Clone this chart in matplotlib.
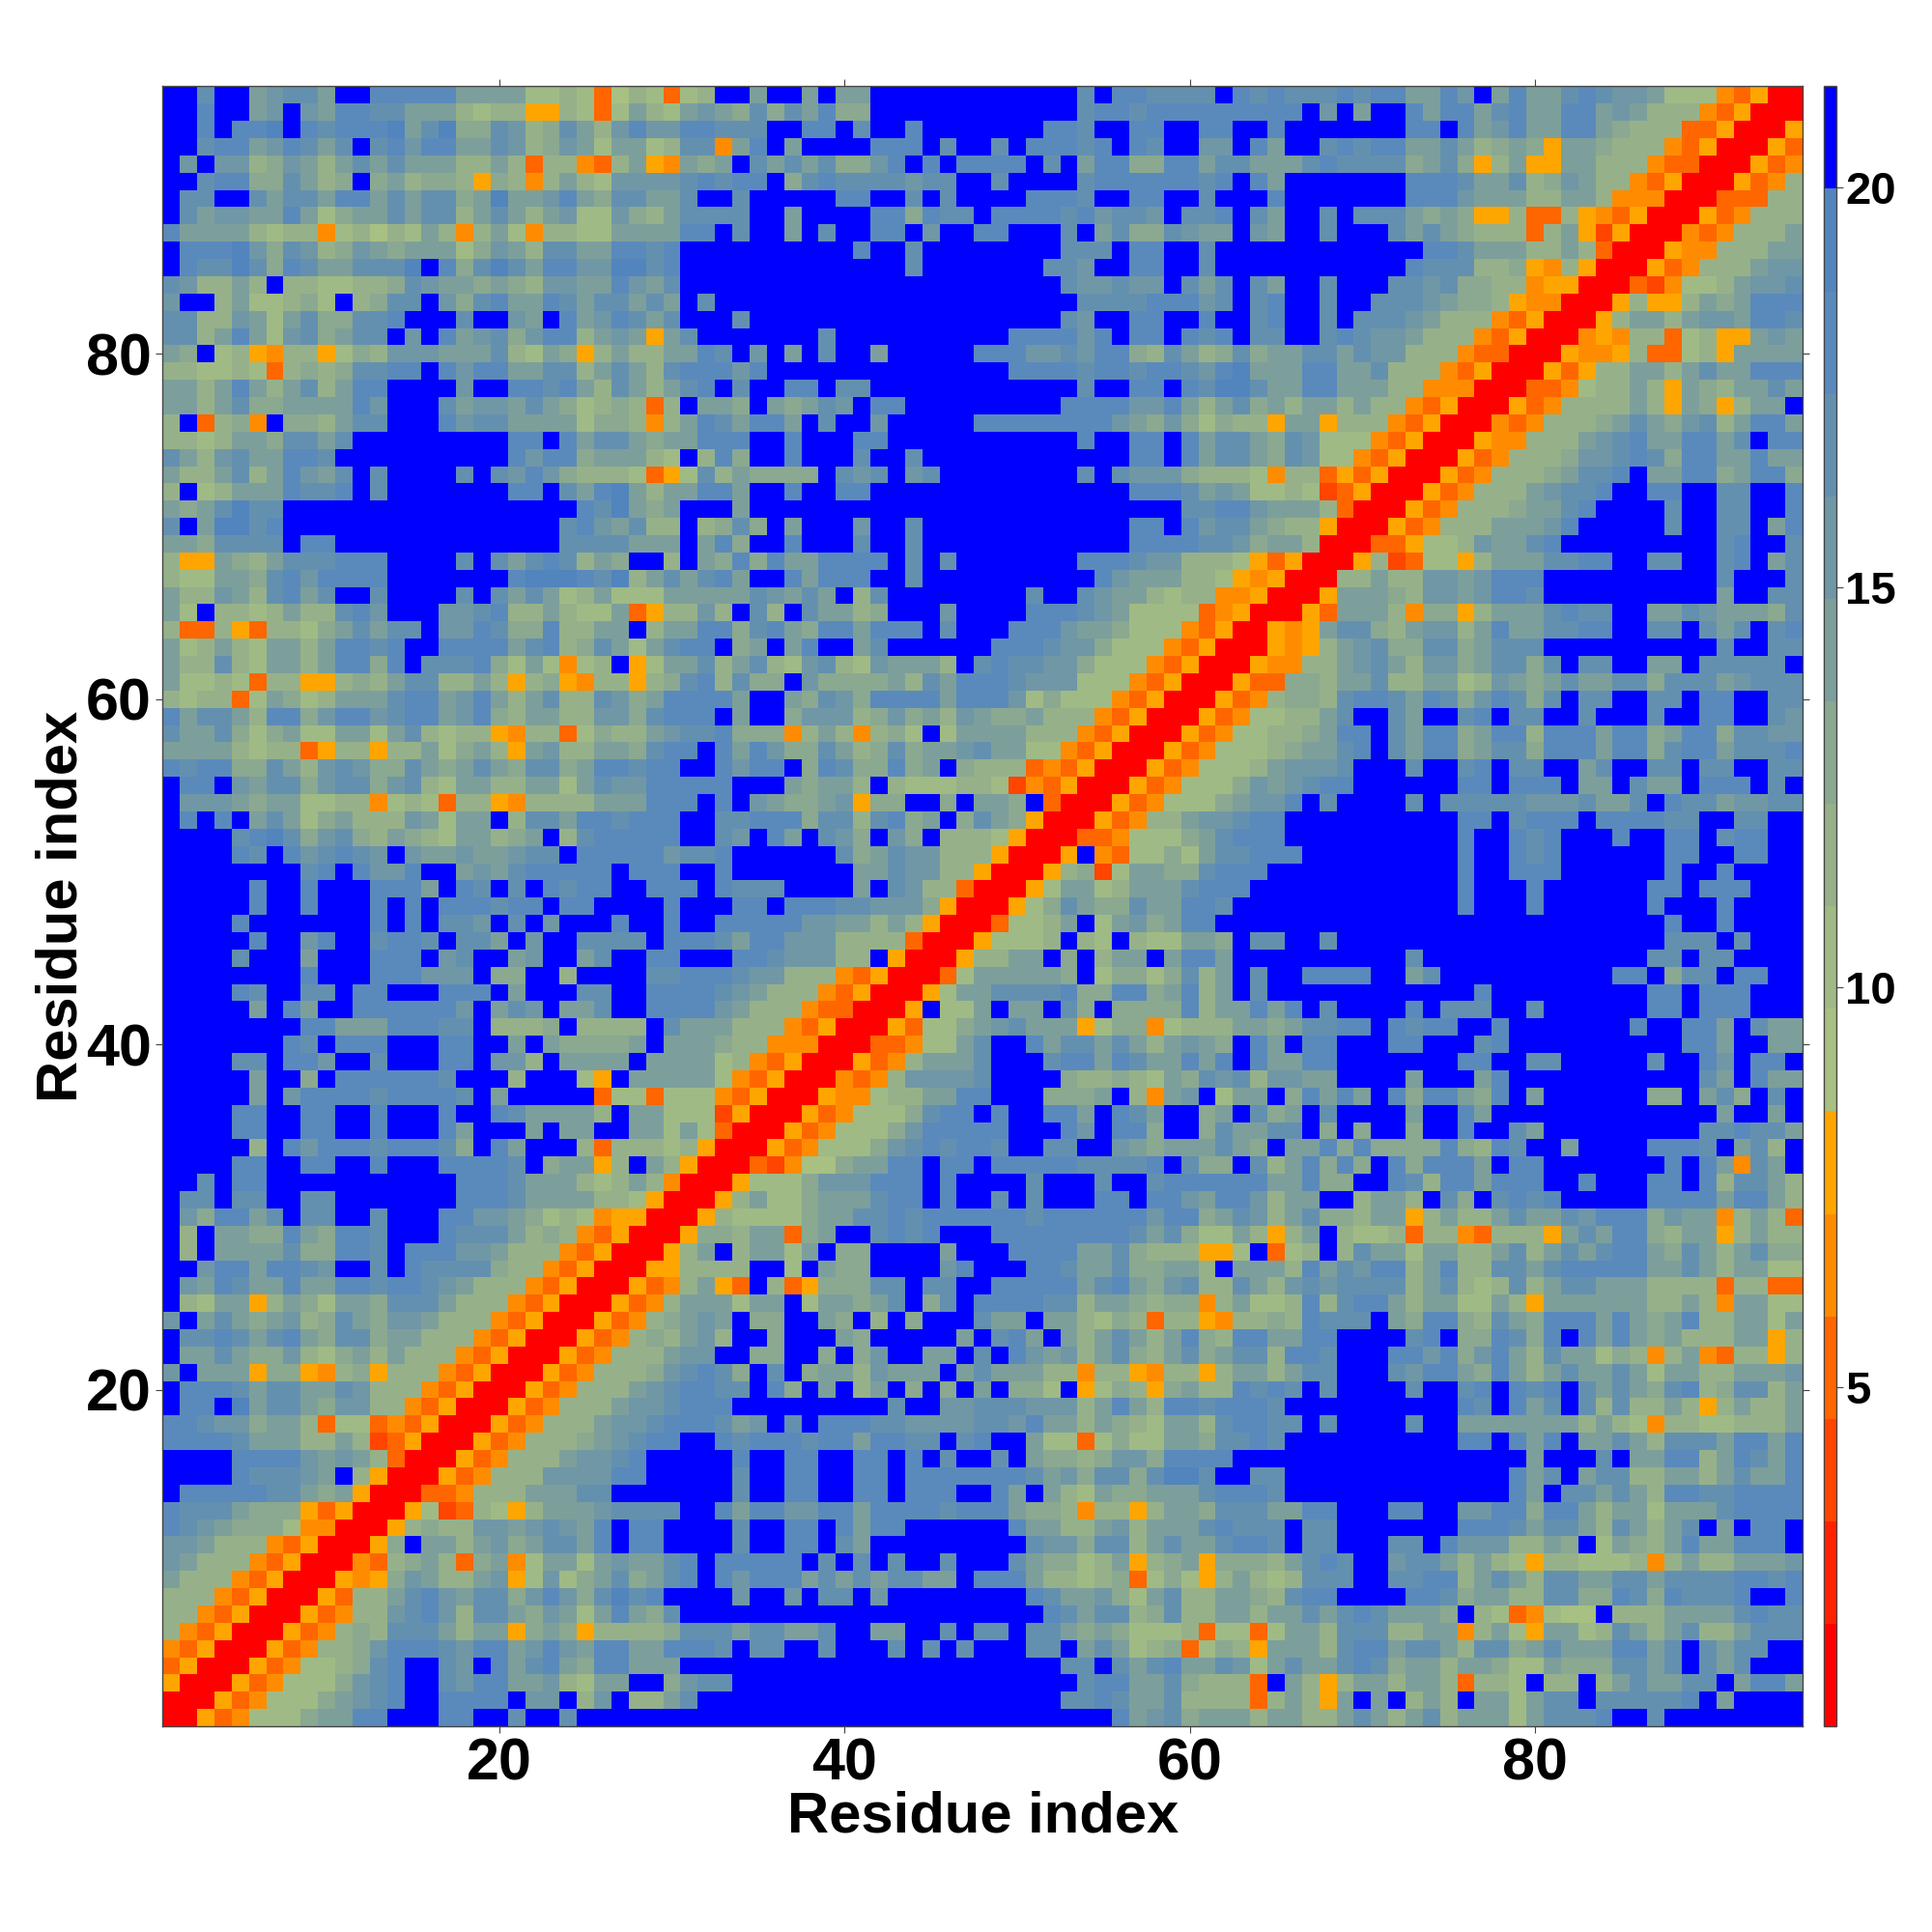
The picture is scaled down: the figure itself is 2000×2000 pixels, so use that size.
import matplotlib
matplotlib.use('Agg')
import matplotlib.pyplot as plt
from matplotlib.colors import ListedColormap, BoundaryNorm
import numpy as np

plt.rcParams['font.family'] = ['Liberation Sans', 'DejaVu Sans']
plt.rcParams['font.weight'] = 'bold'

# distance map, one letter per cell (hex colour band, 0 = closest, f = farthest)
# rows run from residue 95 at the top down to residue 1
cols_01_32 = [
"ffcff abcca ffddd ddaaa a7787 36873 78",
"ffdff abfba ddcca aa878 85587 37a87 ab",
"ffdfd defdc dddea ce99c b89ca 8bdbb dd",
"ffcdd abdca cfcdb ddaac b89ba 7aa78 cc",
"fbfbb 89ba8 acaca aa88a 83884 38a54 a9",
"ffcdd 99ca8 9f9a8 99859 848a8 7bbbb cd",
"fccff cacca ddaca cc9ae aabda 9ccaa cf",
"fcabb aada7 9aaca cc8ac a8ab7 7b98a cc",
"daaaa 87884 78687 a848a 74887 7aaaa dd",
"fddde b9cb8 9ba9a aa79b a8cca addcd ff",
"fdcce c9dca accce fd9ce caddb beecd ff",
"cb88a 8f887 7889c baa9a 98bba adbac ff",
"bff8a 77897 f89cc fb9cd aadca ccaca fc",
"cc88b a7ac9 9ccdf ffcff bafda bdcac ff",
"cc8ad a7bc9 accfb fdabc 9bdd8 aba5a cf",
"a9f78 54885 798bb baaac 87a95 8a88a ad",
"88778 73898 9ccdd fdbdd aacc8 aca8c dd",
"aa8ad a8ac8 addff ffbff ddcda 8ca8a cd",
"aa8ac 99aaa adbff fcabb aca97 89838 fa",
"8f389 4f998 accff fdbcc aaaa7 99848 ad",
"8878a a9cca cffff fffff ddfda cca9a ad",
"ca8bc aaddc fffff fffff dbdd9 aaa87 f8",
"a88ac 8adba cfcff ffcfc bdb98 88735 7c",
"8f78a aadcc dfcff fffff ddfca dea8a ad",
"a9ace ccfff fffff fffff ffffd cea9a ff",
"cfaee cdfff fffff fffff fffcd bac88 f8",
"aa9cc ccfdd fffff fffff fffcc ccaaa fa",
"855a9 8accc dddff ffcfc acdc8 a9ff8 fa",
"877aa 9cdbd dddff fffff deeed ce8ac ac",
"a88ba 8cdac ffcff ffcfc aca78 a777a aa",
"a7f88 78a88 cdbff fbbcd 88a87 7a358 8b",
"83385 38879 acacc fbbdc 99d88 aaf8a ad",
"a78a8 7aa8a ddcdf fdddd acd89 ca7ac dd",
"a88c8 7aa8a dd9df cccd9 7a747 8f57a ac",
"a7787 38855 898ac c88a8 58954 88589 cd",
"87883 7a978 aaacd dabda 8ac88 cb9ad dd",
"dacca 8dd9b ddbcd dabd9 8aa88 bb9cd dd",
"caac9 79a77 aa7ac 87885 48837 988ab cc",
"aaaa8 78835 88588 a79a8 5ab88 aa9cd df",
"dcdd9 9ca8b cb99c a9aca 9cc9a ddcdd ff",
"fddfb acc9b cc9bc 87aa8 8aa7a cbbdd dd",
"fbbba 9aa77 88478 73885 48888 aaadd df",
"fdfdf aca79 a888b a7aaf 8ccad dcddd ff",
"ffffc dec9b c98a9 87aa8 9af8c ddddd ff",
"ffffd cfdbc dcbfb aabaa bccfd ddddb cc",
"fffff fffcd fdbbd ffaba cdddd dfddd ff",
"fffff dffdf ffddd afdcf cfdcd dffdd df",
"fffff dffdf ffdfd fdddc ddfdd ffffd ff",
"ffffd fffff ffdfd fccbf cfbff fdffd ff",
"fffff dffbd ffcdd cfcca fbffc cccfd dd",
"ffffc fffaf ffddd fbcff abffa cffdd ff",
"fffff fffdf ffddd bbbf9 9ff8f fffcc dd",
"ffffd cffcc fddff fdddf afffc cffdd dd",
"fffff afdaf fdddd ddbfa cbfaa cffdd dd",
"fffff fffdd aaadd dccf8 889f8 888fc aa",
"fffff ffdcf dddff fddff afa99 99afa aa",
"ffffc cfddb ffcff fddfb b8faa aafaa aa",
"fffff aff9f ddddd dcfff 8fff7 5faaa aa",
"fffff afbdd ddcdd ddcfa fffff 37737 77",
"ffffd dffdd ffdff fdffd caaaa 8faa7 77",
"ffffd dffdd ffdff fdaff fafaa ffaa7 a7",
"fffff 8fdbd ddcdd dc9fd afff8 38887 85",
"ffffd dffdd ffdff fdddd cf9aa 58fa8 50",
"ffcfd dffff fffff ffddd caaa8 78a84 00",
"fccfc cffcc fffff ffddd caaaa 88750 00",
"fb9dd acfcc ffcff fddbb a9787 45500 05",
"f8faa 99da9 ddcff fdccc a8984 35000 59",
"f8faa aac99 ddcfd ddbba 88843 50005 8a",
"ffbdd addcb ffcfd cccc9 88435 00055 88",
"fbadc aadaa ddcdd cba88 84350 00534 8a",
"f87aa 58a97 aa9cc ca888 43500 05348 aa",
"bfaca 9ab89 ca9bb a8884 35000 53489 ab",
"fccdc acda9 cc9aa 88843 50005 34898 ab",
"faaca 99b87 9a8a8 88435 00053 4888a bb",
"bfaaa 59954 89588 84350 00534 8889b cd",
"fdddc accaa cb888 43500 05348 88abc dd",
"fddfe acca9 bb884 35000 53488 8abbc dd",
"ddcbb 9aa83 77343 50005 34888 abbcd dd",
"ddddc aaa88 a8235 00053 48889 abcdd ff",
"ffffd dddba ba830 00534 888ab bcdff ff",
"ffffd cccba f8500 05348 88bbb bddff ff",
"fdddd dcca9 a5000 33488 8aaac cffff ff",
"dccca 99953 50005 72387 58aaa bcccc ff",
"dcba9 99744 00058 988bb abcba dfddf ff",
"bba88 84350 0059f aa8ab 9acca dfddf ff",
"ba888 43500 04389 a839a 47aa7 abaac df",
"a8884 35000 5459b a88ab 57b79 ac9ac df",
"88843 50005 388ac dbacc 9bdb9 cecdf ff",
"88435 00053 488bc db8cc a9ba7 ada9c ff",
"84350 00534 898cc ca8aa 59a95 88889 cc",
"43500 05348 89bdd dcbdd abdba ddaad dd",
"35000 53477 89cdf fcbfd acda9 ddaaa ff",
"50005 34777 9bcdf fcbdd aab87 aaff9 bc",
"00053 47779 abcdf fdddd fbbf8 bf88a cf",
"00534 7779a addff fddff cffcf fffff ff",
]

cols_33_64 = [
"ffaff afaaf fffff fffff fcfdd ccccf dc",
"a9c9c ad99f fffff fffff fcddc ddddd dd",
"cccff ddfcf fdfff ffffd dcffd dffdd ff",
"4adfa ffffd ddfcf fcfdd dcdfd cffbb fd",
"afcac ac99b dfdfd dddfc fadd9 9ddac ca",
"cddf9 cdccc cbccf fcfff fcddd dddcd fd",
"fcfff ffddf fcfcf fffdd dcffd dffcf ff",
"ccffa ffffd d9dcc fdddd cdbcc bfccd fc",
"fcffa fcffd dfbff ddfff cfac9 9cbaa fb",
"fffff fffdf fcfff fffff cccfd dffcf ff",
"fffff fffff fcfff ffffc cbffd dffcf ff",
"fffff fffff fffff fffff cbbcb bfcac fc",
"fffff fffff fffff fffff fcccc dddbc fc",
"fcfff fffff fffff fffff cbffd dffdf fc",
"fffff fcfff fffff ffddd dbdfd dfdcd fc",
"cfbfa fcffa fffff dddbb cbdd9 8ca89 c9",
"dbdff fffff fffff ffddd dcddc ddcbd ea",
"fcffd dfccf fffff fffff fcffd dfdce ec",
"a9fa9 acbfd dffff fffff ddddb bda8a c9",
"cadda fcffb fffff ddddd dddba 9b979 88",
"ddffd fffdd fffff fffff fdffd dfdac ca",
"d9ffd fffcf fcfff fffff ffffd dfdac ca",
"8a999 9fcbc fbcff fffff fcfcb bb988 87",
"daffd ffddf fffff fffff ffffd ddcab a7",
"fafff fffff fffff fffff fffff ffccd db",
"9c9fa fffbf fcfff fffff ffffd dfdbc ca",
"d9ffd fffcf fcfff fffff ffffd dddcc b9",
"9d9da adddd fcfcf fffff fdddc bb888 75",
"daffd adddf fcfff fffff ffdba aa887 54",
"aacba caf8c fffff fffcf fcbaa 87884 45",
"8fc8f caa89 fffbf fffdd dcba7 77734 50",
"d9cda 9ddad ddfcf ffddd baa97 77435 00",
"f9afa dffac fffff fdddc bb977 74350 00",
"8ac87 bc87b aaa8f cdccb b9777 43500 05",
"8c99f b9999 a8cad ddcbb b7774 35000 53",
"daffa 9cb9d dddad ddb79 77743 50005 34",
"faff9 bbb89 b9a8b a99a8 88435 00053 47",
"d9994 8a848 97f7a aaa88 84350 00534 77",
"dadb9 9ca89 c9aab caa77 43500 05347 77",
"dbddf 9dc99 d9af9 88834 35000 53477 78",
"dfffa 9aa8f 87778 87243 50005 34777 9b",
"dfba9 9ab59 9ff9f aa9f3 00053 47779 ab",
"ccddd 9cc8c d9af9 ca950 00534 88abb cd",
"cbfda fcb9f b9f88 87500 03347 779ac dd",
"dffff ffc9a cbb88 85000 5f437 797ac cd",
"dffff fffaa cbb88 50005 8927a a99cd dd",
"dcccf fffaf cb883 00057 aa78a aacdd df",
"fddfd ddccb bb950 00579 ca99c aaddc ff",
"ddddd bbaa8 a8500 03778 af7ab 9addf ff",
"caddb bb888 83000 57778 f87f8 77aa9 fc",
"fddcb bb88f 50005 88aaf 9f8aa fadda ff",
"dcbb8 88435 00037 aaaaa 9f799 79c8a fc",
"cba88 84350 0057a acccc d99dd 9ad8a fc",
"ba888 43300 05f77 afaaf c9f99 99d8a ad",
"a8884 35000 53779 abcaa a5799 47888 aa",
"98844 40003 3477a cffda ccaca 8aba9 fd",
"78435 00053 48aaa cfffc ddadc aadad fd",
"74350 00434 8bbbb cffff 98898 7a9cb c8",
"43500 05447 88aad dfff9 99af8 4abf7 aa",
"25000 53477 79cdd fdffd dafdc aff9a fc",
"30005 34777 9bddd ddfff dbfdd 9ff9c aa",
"00053 47779 bcdcd dcffc cffba 9aaac a9",
"00324 669aa ddfdd fdddd dcccc dfc99 fc",
"05777 9bbbd ddfdf fffcf ffcff cdddd dd",
"58a77 9aaac ddfdf fcfcf ffddf ddbad db",
"87777 9aacc dcddd dddcd ddddd bdd9a cb",
"98aa3 9affc dcdff fdddd ddddc ac977 a8",
"f8aa7 af99f fffaf ffddd daac9 88855 7f",
"88ff7 fa99f fffbd fffdd caac9 9aa8f aa",
"53f83 5999c cfccf fdddd dacda 9bc88 ca",
"a7aaf 7aa9a cf9cf ddddc c8aa9 89948 a7",
"af99f fa9f8 f9fff caafa a8798 38854 88",
"8ff9f ffa9f ffffa fcdaf a8aca 8ad98 dd",
"ff99f f9f9b ffaaf cfdba b8ac9 8ac9a cc",
"c9fcf 9aa8b aaafa caaa8 84885 48858 aa",
"ccfd9 faf8a f9f9f af997 f5798 59a88 dc",
"dffff fffff cffbb cccbb b8ada 8ddcd dd",
"cabfc fdddc cbbbb ccbda a8a98 7aa8c dd",
"dcddd cddad dccfc dffa7 73797 7aa9c cd",
"fdffd dffdd fdfcf fcfa9 989bb 9dddd ff",
"fcffd dffdd fdddd dddca b9cc9 ceecf fc",
"fcffd dffdd fdddf fdafa 87a99 aaacd dd",
"daddb bddad dddcd dda99 84885 8aa9c cc",
"fcffd dfdad dffff ffdaa 88ab8 aaacd cc",
"fcffd dfcaf fffff fffcb b9cc8 acaac dd",
"ddddd fcfcf cffcf ffca9 978a5 89a59 99",
"dbddd acaca ccaaf ddda8 87893 79758 a8",
"fbffb fccfb fffff fffdc aab97 ac88a a9",
"fffff fffff fffff ffffd cacc8 9c88a a8",
"cacca acffa affcf ccfcc a9a97 77837 73",
"cfccf fcfff cfcfc fffcc faca7 89379 85",
"fffff fffff fffff fffff ccfca cdaac b7",
"cffff fffff fffff fffff fcdda ac988 83",
"fffff fffff fffff fffff ccdca ac888 83",
"fffff fffff fffff fffff fffda bc9aa a8",
]

cols_65_95 = [
"dcccd cddaa dbfad aacdc bba77 74350 0",
"ddfbf affda ddacd aadda ba888 43500 0",
"dffff fffdd fdabd aadda 98883 35000 5",
"affcd cddaa ca89a 95aa9 88843 50005 3",
"aacdc ccc9a c958a 55aa8 88433 00053 4",
"affff fffdd dcaac 89ba8 84350 00534 8",
"dffff fffdd dbaaa 88aa8 44400 03338 8",
"affcf ccca9 a9558 33854 35000 53488 8",
"affcf ffcac a9888 38a52 50004 34888 a",
"fffff ffffd dcaaa 88a83 00054 4888a a",
"fffff fffdc cc889 54850 00534 888ab b",
"affcf ffccb c9988 45500 03247 78abb c",
"dffcf fcccb a9985 44000 58558 a9add d",
"dffcf cccba 88843 50005 8aa8a bbadd c",
"cffcd cbba8 88435 00045 48837 855ab a",
"aacca cbb88 84330 00544 58337 85aaa a",
"aadda ac888 43500 05358 8aa8a caadd d",
"aadda aa884 44000 33478 8a85a 98aac a",
"a8aa8 a8843 50005 34888 8a85a 958aa f",
"5aa58 88435 00043 48889 aca9b c8add a",
"9cb77 74350 00544 888ab cdaad dacfd d",
"9cb77 43500 05348 889bb cdc9d daada a",
"48835 35000 53488 89acc dfaad d9add 9",
"78723 50005 34888 abccd ffddf fccff d",
"aaa83 00053 48889 aacdf fffcf fccff d",
"98850 00534 888aa abdff fffcf fccfa d",
"aa800 03357 78baa cdfff fffff fcdff c",
"35000 58237 758aa accdd ffccf fcdfa c",
"50008 8a88b babdd dffff fffff fcfff c",
"0005a aa98b babdd cffff fffff faffc c",
"0053a aa849 958aa acdcc ffaac baaa9 c",
"545ac c98ab b8ada accdd ffccf cacfc d",
"5458a bc99c c9acc cffff fffff fcffc c",
"4488a bca8b b9acc 9cfcc ffaaf ccccc f",
"3998a ac88a a78ba 9acaa cc9cc cabcc c",
"8998c ddcad c9bdc 9cfcc ffccf ddffc c",
"788ac ffcaf fcdfc cffcf ffcff ddffc b",
"889ad dfcad d9add 8ddda dd9ad d9ccb b",
"89aac dfcad d9acc 9ddda dd9cd daccc d",
"abbbc fffcf fcdfc cffac ffccf ccffc c",
"abcdd fffff fddfd ddfaa fcaaf dddfc f",
"bdfcf fffcf ccccc bbbca acfdc cabbc c",
"dffff fffff fddfc dddfd dddcc ffccf f",
"dffff fffff fdffd cdfff dffdd fcddf f",
"ddfff fffff fdffd cdfff fffdd ffddf f",
"fffff fffff fdffd ddfff fffdf fdfff f",
"fffff fffff fdfff dffff ffddf dddff f",
"fffff fffff fdfff dffff ffdff fdfff f",
"fffff fffff fffff fffff fffdf fdfff f",
"cffcf fffff fffff fffff fffcc cfcff f",
"fffff fffcf fffff fffff ffccf ccfff f",
"ffddd dffac fffff fffff ddf9c cfddf f",
"fffff fffff ffdff fffff ffddf dddff f",
"adfcf fffdf cccff cffff ffddf dddff f",
"9accd dfdcd dffdf fffff fdffd dafca a",
"afddf ffddf ffcdf fffff ffffd daffa a",
"aaddf fffff fddff ccfff ffcff dbfdd f",
"bbaaf fffaf ffadf fffff fffff cafda a",
"f9dad afd9d da9df affff ff99f ac9fc f",
"9afcf fffaf fdaff fffff fffff faffa f",
"ccf9f 9ff9f fdffc affff fffff ccdcc a",
"faad9 d9999 d98dc ffaff ffddd cfac8 f",
"8ad9d 9fd9d ddafd dffff fffdf da4ca f",
"aad99 ffdc8 ddadd dffdf ffddf d8cca 8",
"8aaff 8aa8f c9fcd cdfff ffddd dadda 8",
"8ac99 8aa58 a88ac aacbd dd9ba a48a8 3",
"58af8 77838 84388 85aca dd98a a58a8 8",
"378f8 caa7a a88ac 8acac dda9c a8ac9 9",
"a8dac bdd8a d88cc acddd ddaac a8aa7 7",
"8bcbc ccc8a c878c 8acca aa888 83883 3",
"78d8c dda8a a77a8 5aaaa aa88a 84aa7 7",
"98dcc cfa9d d98ca 9ddda da9ad 88aa7 a",
"aaddf fffcd f99dc 9dfda da9a8 88aa5 8",
"8ddcf ffddb d9bda 8caa7 9848a 43885 8",
"8accf ffcbd da9da 8acaa ca7aa 88aaa b",
"dcfcf fffcf fcdfd cdfca ca9cd 89cc8 a",
"cffff fffff fdcfd acfc8 c88a8 58a88 a",
"ccfcf fffcf faaaa aaa8a 87488 77888 a",
"cffff fffff fddfd adfaa ca8cc cadda d",
"fffff fffff fffff afffc faadd 8adca d",
"cffff fffff ffffd acfac c88aa 8acaa d",
"cffff fffff ffffd afcca ca8dd ccddd d",
"aaddf ffddf fbbdd 9dda8 aa7aa acddd d",
"cfccf fffff fdddc acca8 ca8ac fafdd f",
"cfccf ffccf dbbb8 8a9f7 a98ad aaddd f",
"8acdc ffbcc a8a87 58877 7848a 88aaa b",
"78ccc ffccd d8aca 8ccaa ccacc ccddc d",
"8cddf fffdd c9aa8 8cc99 dc9dc ccdff d",
"aacac dcaaa 9f873 4766f 888aa aacdc c",
"7aa8c cc88a a48a7 5aa78 ca8ac 88acc c",
"aaa8c ddacc a8cc9 acaaa ddacf caccf f",
"acaac dc9aa 8aa97 7a999 ccacf cacff f",
"fa858 aa8aa 83887 f88f8 acaac cfadd a",
"8a85a faf8a 8faa7 accfc ccccd fafff f",
"aa88a ca8ac 8aaa7 acccd ffcff fffff f",
]

band_colors = ['#ff0000', '#ff2200', '#ff4500', '#ff6600', '#ff8c00', '#ffa500',
               '#a8c082', '#a0ba85', '#96b189', '#8ba890', '#7d9f9b', '#7097a6',
               '#6490b0', '#5a8abb', '#5284bd', '#0000ff']
dist_min = 0.76
dist_max = 21.26
xticks = [20, 40, 60, 80]
cbar_ticks = [5, 10, 15, 20]


def read_part(part, width):
    # a short or long row stays inside its own part of the map
    out = []
    for row in part:
        row = row.replace(' ', '')[:width].ljust(width, 'd')
        out.append([int(c, 16) for c in row])
    return np.array(out)


bands = np.hstack([read_part(cols_01_32, 32), read_part(cols_33_64, 32), read_part(cols_65_95, 31)])[::-1]
edges = np.linspace(dist_min, dist_max, len(band_colors) + 1)
dist = edges[bands] + (edges[1] - edges[0]) / 2.0

cmap = ListedColormap(band_colors)
norm = BoundaryNorm(edges, cmap.N)

W = 2000.0
fig = plt.figure(figsize=(20, 20), dpi=100)
ax = fig.add_axes([168.4 / W, 1 - 1787.0 / W, (1866.0 - 168.4) / W, (1787.0 - 89.4) / W])
cax = fig.add_axes([1888.0 / W, 1 - 1787.0 / W, 13.0 / W, (1787.0 - 89.4) / W])

res = np.arange(0.5, 96.0)
mesh = ax.pcolormesh(res, res, dist, cmap=cmap, norm=norm, linewidth=0, rasterized=True)
ax.set_xlim(0.5, 95.5)
ax.set_ylim(0.5, 95.5)
ax.set_xticks(xticks)
ax.set_yticks(xticks)
ax.tick_params(top=True, right=True, direction='out', length=5, width=0.8, color='#444444',
               labelsize=44, pad=3.5)
for spine in ax.spines.values():
    spine.set_linewidth(1.0)
    spine.set_color('#444444')

ax.set_xlabel('Residue index', fontsize=43, fontweight='bold', va='center')
ax.set_ylabel('Residue index', fontsize=43, fontweight='bold', va='center')
ax.xaxis.set_label_coords(0.5, -(1881.0 - 1787.0) / 1697.6)
ax.yaxis.set_label_coords(-(168.4 - 64.0) / 1697.6, 0.5)

cbar = fig.colorbar(mesh, cax=cax, ticks=cbar_ticks, spacing='proportional')
cbar.ax.minorticks_off()
cbar.ax.tick_params(length=5, width=0.8, color='#444444', labelsize=34, pad=1.5)
cbar.outline.set_linewidth(1.0)
cbar.outline.set_edgecolor('#444444')

fig.savefig('out.png', dpi=100, facecolor='white')
